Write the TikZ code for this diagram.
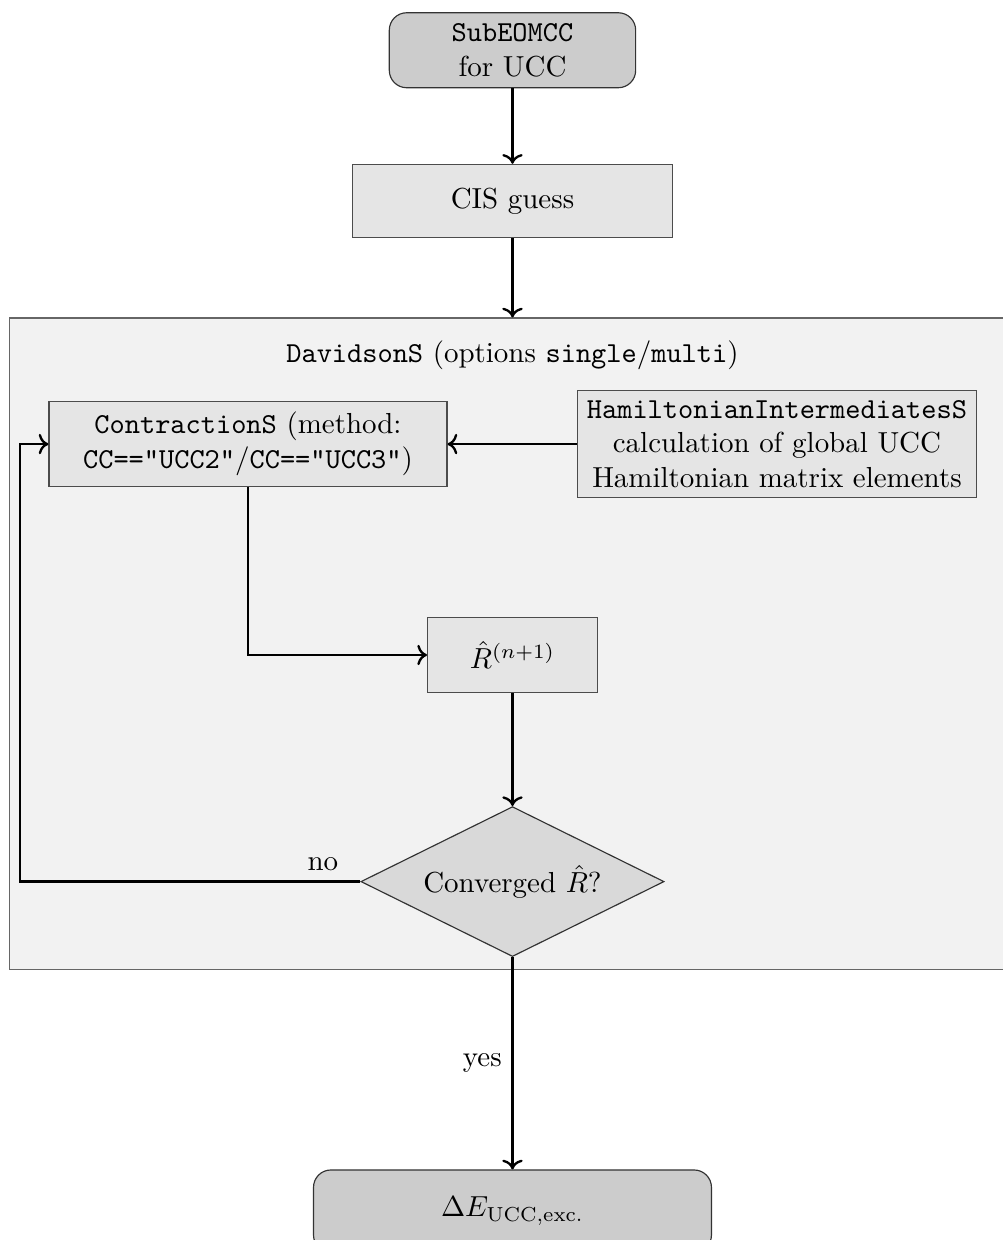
\documentclass[tikz,border=0pt]{standalone}
\usepackage{amsmath}
\usepackage{xcolor}
\usetikzlibrary{positioning,calc,shapes.geometric,arrows.meta}
\tikzset{
    termnode/.style={rectangle, rounded corners=6pt, draw=black!80, fill=gray!40, align=center, minimum width=2.99cm, minimum height=0.91cm},
    procnode/.style={rectangle, draw=black!70, fill=gray!20, align=center},
    decnode/.style={diamond, aspect=2, draw=black!80, fill=gray!30, minimum width=3.68cm, minimum height=1.82cm, inner sep=1pt},
    groupbox/.style={rectangle, draw=black!60, fill=gray!10, inner sep=0pt},
    flow/.style={draw, thick, ->}
}
\begin{document}
\begin{tikzpicture}
    \useasboundingbox (0,0) rectangle (12.17,-15.05);

    % groupe Davidson
    \node[groupbox, minimum width=12.7cm, minimum height=7.91cm] (davidson) at (6.47,-7.815) {};
    \node (davlabel) at (6.22,-4.31) {\texttt{DavidsonS} (options \texttt{single}/\texttt{multi})};

    % noeuds
    \node[termnode] (start) at (6.22,-0.61) {\texttt{SubEOMCC}\\for UCC};
    \node[procnode, minimum width=3.88cm, minimum height=0.89cm] (cis) at (6.22,-2.44) {CIS guess};
    \node[procnode, minimum width=4.83cm, minimum height=1.03cm] (contr) at (3.01,-5.39) {\texttt{ContractionS} (method:\\\texttt{CC=="UCC2"}/\texttt{CC=="UCC3"})};
    \node[procnode] (hamil) at (9.43,-5.39) {\texttt{HamiltonianIntermediatesS}\\calculation of global UCC\\Hamiltonian matrix elements};
    \node[procnode, minimum width=2.06cm, minimum height=0.91cm] (rhat) at (6.22,-7.95) {$\hat{R}^{(n+1)}$};
    \node[decnode] (conv) at (6.22,-10.70) {Converged $\hat{R}$?};
    \node[termnode, minimum width=4.83cm, minimum height=1cm] (result) at (6.22,-14.70) {$\Delta E_{\text{UCC,exc.}}$};
    \coordinate (loop) at (0.24,-10.70);

    % fleches
    \draw[flow] (start) -- (cis);
    \draw[flow] (cis) -- (cis.south |- davidson.north);
    \draw[flow] (hamil) -- (contr);
    \draw[flow] (contr.south) |- (rhat.west);
    \draw[flow] (rhat) -- (conv);
    \draw[flow] (conv.west) -- node[above, pos=0.11] {no} (loop) |- (contr.west);
    \draw[flow] (conv) -- node[left] {yes} (result);
\end{tikzpicture}
\end{document}
